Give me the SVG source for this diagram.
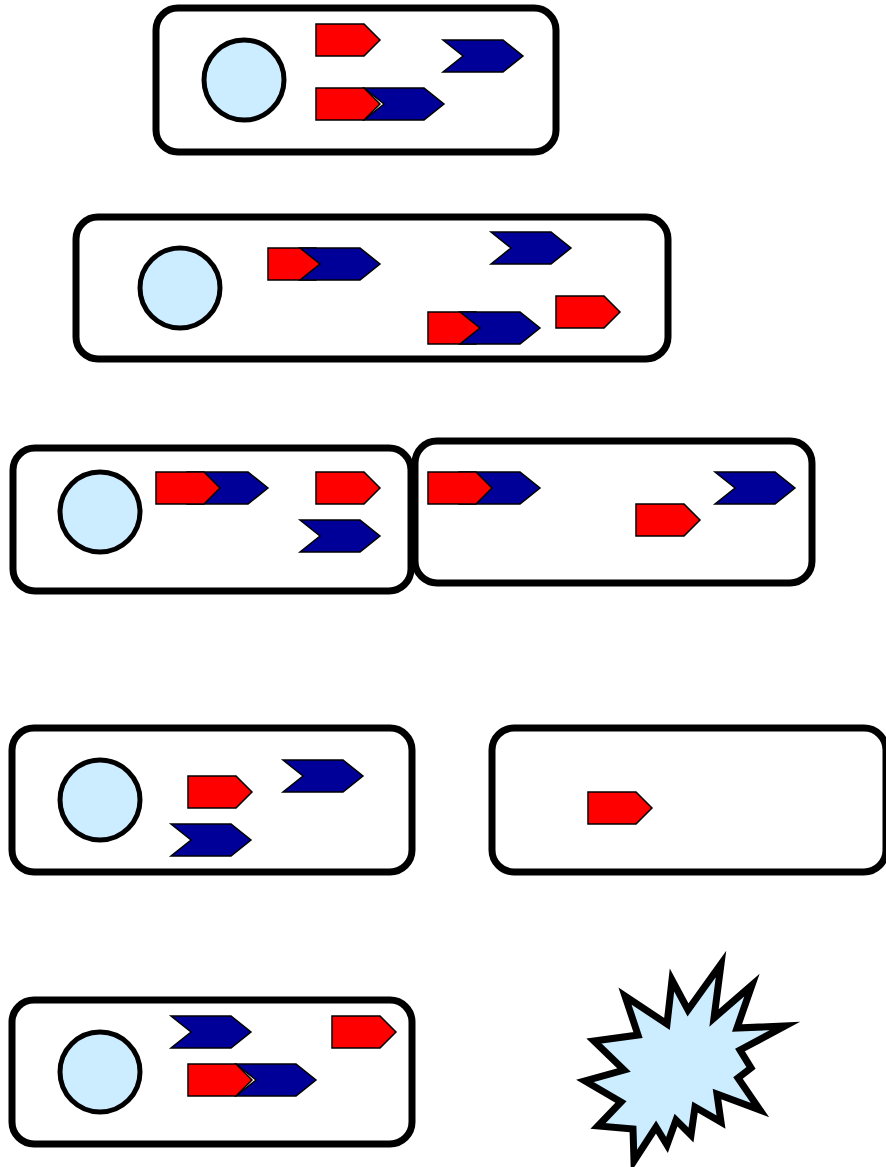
<svg xmlns="http://www.w3.org/2000/svg" xmlns:xlink="http://www.w3.org/1999/xlink" width="886" height="1167" viewBox="0 0 886 1167">
<style>
.box{fill:#FFFFFF;stroke:#000000;stroke-width:7}
.cell{fill:#CCECFF;stroke:#000000;stroke-width:5}
.red{fill:#FF0000;stroke:#000000;stroke-width:1.5;stroke-linejoin:miter}
.blue{fill:#000099;stroke:#000000;stroke-width:1.5;stroke-linejoin:miter}
.burst{fill:#CCECFF;stroke:#000000;stroke-width:7;stroke-linejoin:miter;stroke-miterlimit:10}
</style>
<defs>
<path id="r" class="red" d="M0,0 H48 L64,16 L48,32 H0 Z"/>
<path id="b" class="blue" d="M0,0 H60 L80,16 L60,32 H0 L20,16 Z"/>
</defs>
<rect width="886" height="1167" fill="#FFFFFF"/>
<g id="cell1">
<rect class="box" x="156" y="8" width="400" height="144" rx="22"/>
<circle class="cell" cx="244" cy="80" r="40"/>
<use href="#r" x="316" y="24"/>
<use href="#b" x="443" y="40"/>
<use href="#b" x="364" y="88"/>
<use href="#r" x="316" y="88"/>
</g>
<g id="cell2">
<rect class="box" x="76" y="217" width="592" height="142" rx="22"/>
<circle class="cell" cx="180" cy="288" r="40"/>
<use href="#r" x="268" y="248"/>
<use href="#b" x="300" y="248"/>
<use href="#b" x="491" y="232"/>
<use href="#r" x="428" y="312"/>
<use href="#b" x="460" y="312"/>
<use href="#r" x="556" y="296"/>
</g>
<g id="cell3a">
<rect class="box" x="13" y="448" width="398" height="143" rx="22"/>
<circle class="cell" cx="100" cy="512" r="40"/>
<use href="#b" x="188" y="472"/>
<use href="#r" x="156" y="472"/>
<use href="#r" x="316" y="472"/>
<use href="#b" x="300" y="520"/>
</g>
<g id="cell3b">
<rect class="box" x="415" y="441" width="397" height="142" rx="22"/>
<use href="#b" x="460" y="472"/>
<use href="#r" x="428" y="472"/>
<use href="#r" x="636" y="504"/>
<use href="#b" x="715" y="472"/>
</g>
<g id="cell4a">
<rect class="box" x="12" y="728" width="400" height="144" rx="22"/>
<circle class="cell" cx="100" cy="800" r="40"/>
<use href="#r" x="188" y="776"/>
<use href="#b" x="283" y="760"/>
<use href="#b" x="171" y="824"/>
</g>
<g id="cell4b">
<rect class="box" x="492" y="728" width="394" height="144" rx="22"/>
<use href="#r" x="588" y="792"/>
</g>
<g id="cell5">
<rect class="box" x="12" y="1000" width="400" height="144" rx="22"/>
<circle class="cell" cx="100" cy="1072" r="40"/>
<use href="#b" x="171" y="1016"/>
<use href="#r" x="332" y="1016"/>
<use href="#b" x="236" y="1064"/>
<use href="#r" x="188" y="1064"/>
</g>
<g id="burst">
<polygon class="burst" points="721,964 714,1018 752,985 737,1028 785,1026 740,1050 751,1068 738,1078 760,1110 717,1094 721,1122 695,1107 691,1135 676,1120 667,1145 656,1127 634,1161 633,1129 598,1126 621,1102 585,1081 624,1070 594,1041 638,1035 625,996 667,1024 672,980 688,1010"/>
</g>
<g id="connectors"/>
</svg>
